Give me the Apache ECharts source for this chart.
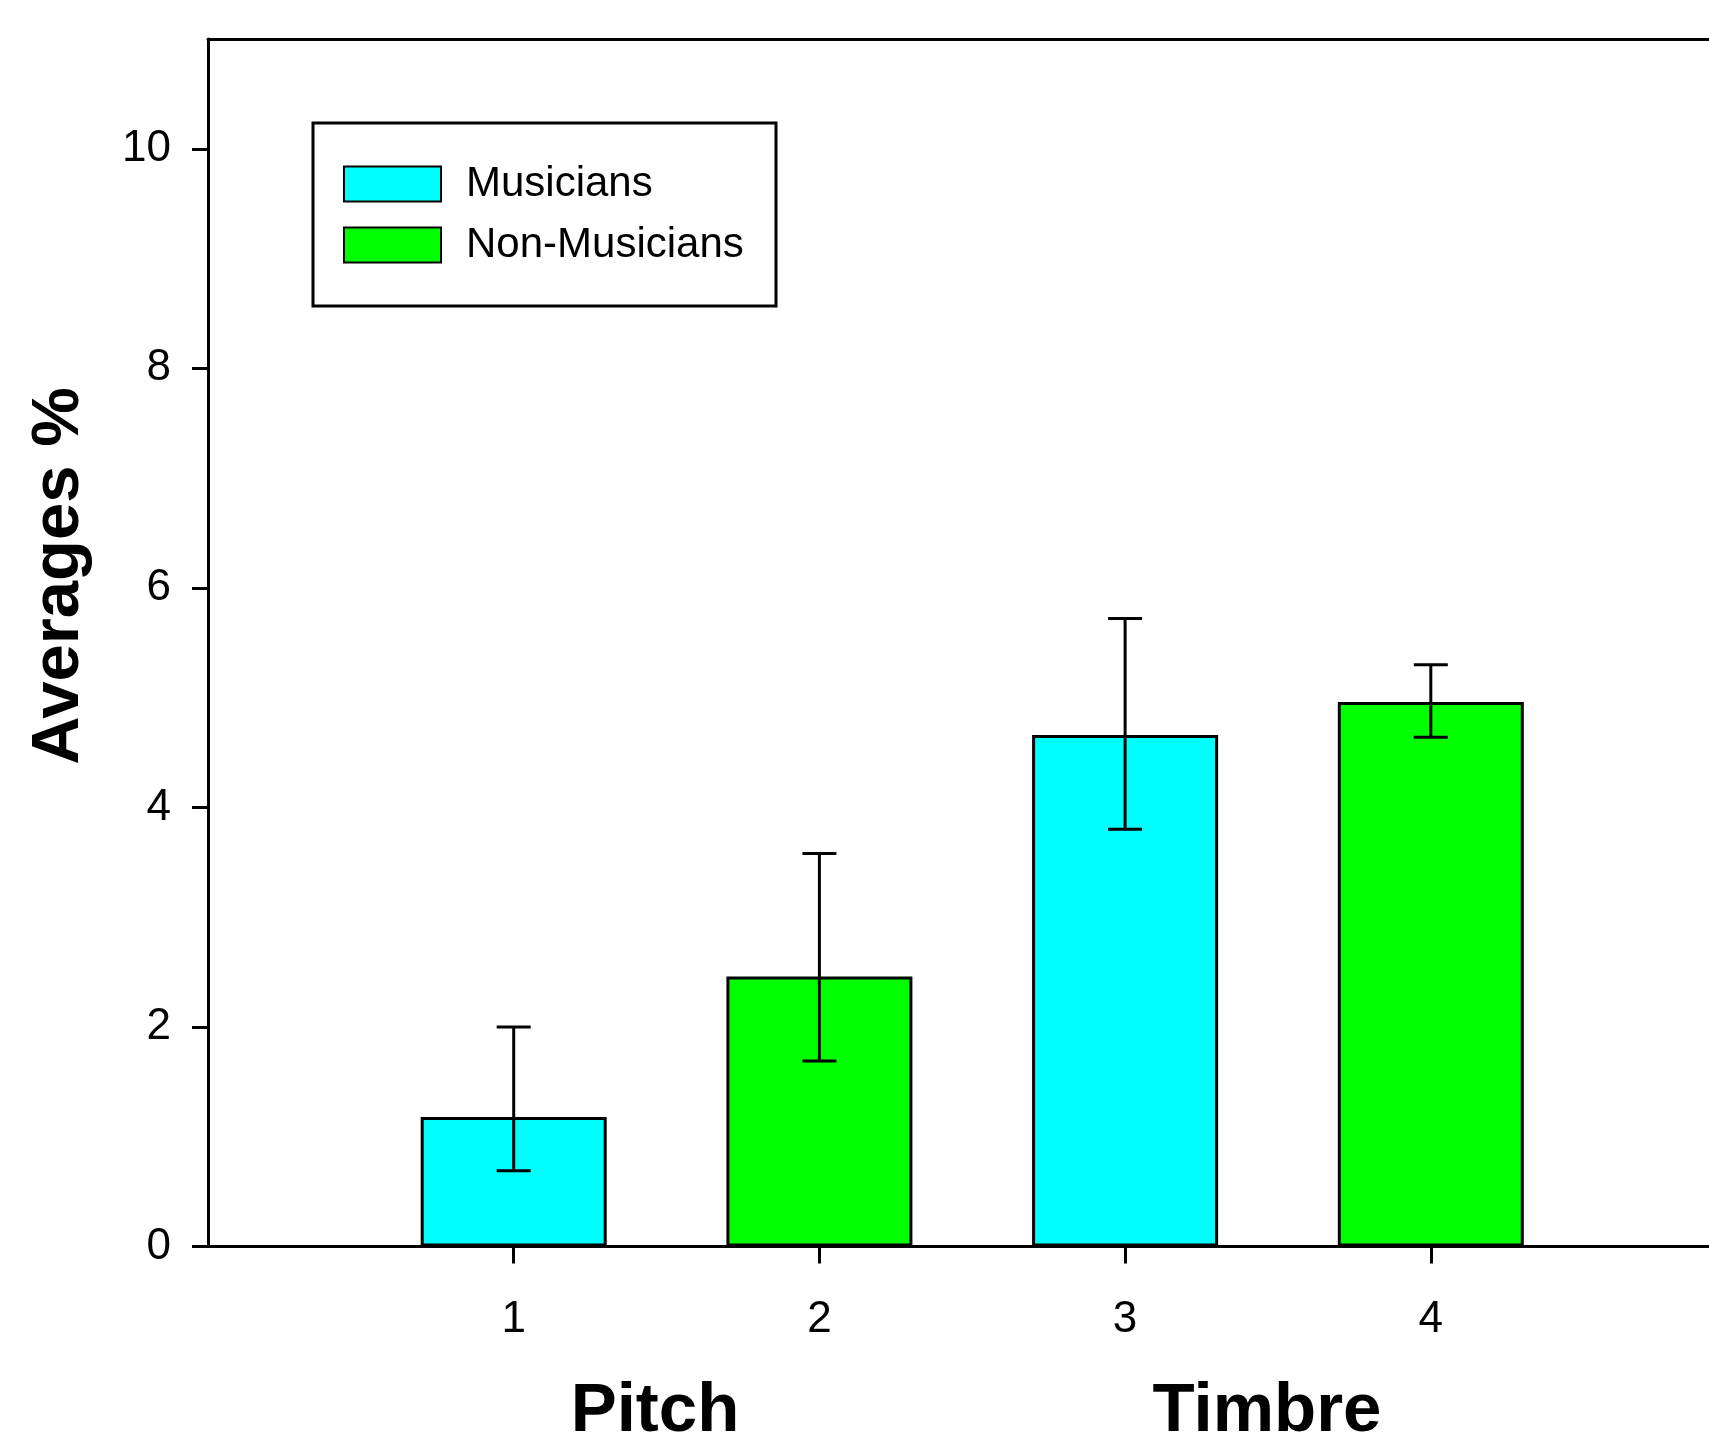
<!DOCTYPE html>
<html>
<head>
<meta charset="utf-8">
<script src="https://cdn.jsdelivr.net/npm/echarts@6/dist/echarts.min.js"></script>
<style>
html,body{margin:0;padding:0;background:#fff;}
#chart{width:1709px;height:1439px;}
</style>
</head>
<body>
<div id="chart"></div>
<script>
// ---- data ----
const seriesNames = ['Musicians', 'Non-Musicians'];
const musiciansX = [1, 3];
const musiciansMean = [1.18, 4.66];
const musiciansErrLow = [0.69, 3.80];
const musiciansErrHigh = [2.00, 5.72];
const nonMusiciansX = [2, 4];
const nonMusiciansMean = [2.46, 4.96];
const nonMusiciansErrLow = [1.69, 4.64];
const nonMusiciansErrHigh = [3.58, 5.30];
const xTickValues = [1, 2, 3, 4];
const yTickValues = [0, 2, 4, 6, 8, 10];
const groupLabels = ['Pitch', 'Timbre'];
const yAxisTitle = 'Averages %';

const FONT = "'Liberation Sans', Arial, Helvetica, sans-serif";

const mData = musiciansX.map((x, i) => [x, musiciansMean[i]]);
const nData = nonMusiciansX.map((x, i) => [x, nonMusiciansMean[i]]);
const errData = musiciansX.map((x, i) => [x, musiciansErrLow[i], musiciansErrHigh[i]])
  .concat(nonMusiciansX.map((x, i) => [x, nonMusiciansErrLow[i], nonMusiciansErrHigh[i]]));

const chart = echarts.init(document.getElementById('chart'), null, {renderer: 'canvas'});

const X_MAX = 4.91; // axis continues past the right edge of the picture

const option = {
  backgroundColor: '#fff',
  animation: false,
  grid: {
    left: 208, top: 39, bottom: 192.5, right: 0,
    show: false
  },
  legend: {
    orient: 'vertical',
    left: 343, top: 163,
    padding: 0,
    itemWidth: 97, itemHeight: 35, itemGap: 19,
    icon: 'rect',
    data: seriesNames,
    textStyle: {fontFamily: FONT, fontSize: 42, color: '#000', padding: [0, 0, 0, 20]},
    selectedMode: false
  },
  xAxis: [{
    type: 'value', min: 0, max: X_MAX, interval: 1, position: 'bottom',
    axisLine: {show: true, onZero: false, lineStyle: {color: '#000', width: 3}},
    axisTick: {show: true, customValues: xTickValues, length: 17, lineStyle: {color: '#000', width: 3}},
    axisLabel: {show: true, customValues: xTickValues, margin: 51, fontFamily: FONT, fontSize: 44, color: '#000'},
    splitLine: {show: false}
  }, {
    type: 'value', min: 0, max: X_MAX, interval: 1, position: 'top',
    axisLine: {show: true, onZero: false, lineStyle: {color: '#000', width: 3}},
    axisTick: {show: false}, axisLabel: {show: false}, splitLine: {show: false}
  }],
  yAxis: {
    type: 'value', min: 0, max: 11, interval: 2,
    axisLine: {show: true, onZero: false, lineStyle: {color: '#000', width: 3}},
    axisTick: {show: true, customValues: yTickValues, length: 16, lineStyle: {color: '#000', width: 3}},
    axisLabel: {show: true, customValues: yTickValues, margin: 37, fontFamily: FONT, fontSize: 44, color: '#000'},
    splitLine: {show: false}
  },
  graphic: [
    {type: 'rect', shape: {x: 313, y: 123, width: 463, height: 183},
     style: {fill: 'transparent', stroke: '#000', lineWidth: 3}, z: 10},
    {type: 'text', x: 655, y: 1412,
     style: {text: groupLabels[0], font: 'bold 69px ' + FONT, fill: '#000', textAlign: 'center', textVerticalAlign: 'middle'}},
    {type: 'text', x: 1267, y: 1412,
     style: {text: groupLabels[1], font: 'bold 69px ' + FONT, fill: '#000', textAlign: 'center', textVerticalAlign: 'middle'}},
    {type: 'text', x: 60, y: 576, rotation: Math.PI / 2,
     style: {text: yAxisTitle, font: 'bold 67px ' + FONT, fill: '#000', textAlign: 'center', textVerticalAlign: 'middle'}}
  ],
  series: [
    {
      name: seriesNames[0], type: 'bar', data: mData, barWidth: 186, barGap: '-100%',
      itemStyle: {color: '#00FFFF', borderColor: '#000', borderWidth: 3}
    },
    {
      name: seriesNames[1], type: 'bar', data: nData, barWidth: 186, barGap: '-100%',
      itemStyle: {color: '#00FF00', borderColor: '#000', borderWidth: 3}
    },
    {
      name: 'err', type: 'custom', data: errData, z: 5,
      renderItem: function (params, api) {
        const x = api.value(0), lo = api.value(1), hi = api.value(2);
        const pHi = api.coord([x, hi]);
        const pLo = api.coord([x, lo]);
        const hw = 17;
        const st = {stroke: '#000', lineWidth: 3};
        return {
          type: 'group',
          children: [
            {type: 'line', shape: {x1: pHi[0], y1: pHi[1], x2: pLo[0], y2: pLo[1]}, style: st},
            {type: 'line', shape: {x1: pHi[0] - hw, y1: pHi[1], x2: pHi[0] + hw, y2: pHi[1]}, style: st},
            {type: 'line', shape: {x1: pLo[0] - hw, y1: pLo[1], x2: pLo[0] + hw, y2: pLo[1]}, style: st}
          ]
        };
      }
    }
  ]
};
chart.setOption(option);
</script>
</body>
</html>
